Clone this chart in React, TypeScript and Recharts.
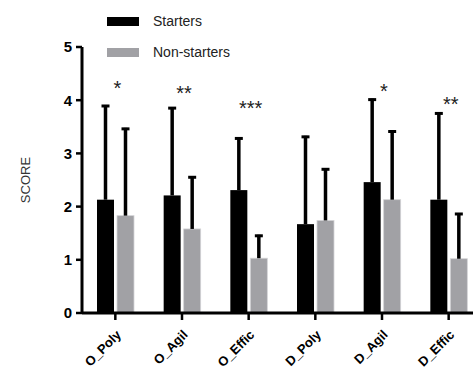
import React from 'react';
import { ComposedChart, Bar, Line, XAxis, YAxis } from 'recharts';

const FONT = '"Liberation Sans", Arial, sans-serif';

const categories = ['O_Poly', 'O_Agil', 'O_Effic', 'D_Poly', 'D_Agil', 'D_Effic'];
const startersMean = [2.13, 2.21, 2.31, 1.67, 2.46, 2.13];
const startersErr = [1.78, 1.66, 0.99, 1.66, 1.57, 1.64];
const nonStartersMean = [1.83, 1.58, 1.03, 1.74, 2.13, 1.02];
const nonStartersErr = [1.65, 0.99, 0.44, 0.98, 1.3, 0.86];
const significance = ['*', '**', '***', '', '*', '**'];
const significanceAt = [4.3, 4.21, 3.92, null, 4.25, 4.0];
const yTicks = [0, 1, 2, 3, 4, 5];

const data = categories.map((name, i) => ({
  name,
  starters: startersMean[i],
  startersErr: startersErr[i],
  nonStarters: nonStartersMean[i],
  nonStartersErr: nonStartersErr[i],
  sig: significance[i],
  sigAt: significanceAt[i],
}));

// bar + one-sided (upper) error whisker, scaled from the bar's own height
const BarWithErr = (props: any) => {
  const { x, y, width, height, fill, stroke, payload, valKey, errKey } = props;
  const val = payload[valKey];
  const err = payload[errKey];
  const perUnit = val ? height / val : 0;
  const cx = x + width / 2;
  const top = y - err * perUnit;
  return (
    <g>
      <rect x={x} y={y} width={width} height={height} fill={fill} stroke={stroke} strokeWidth={stroke ? 0.8 : 0} />
      <line x1={cx} x2={cx} y1={y} y2={top} stroke="#000" strokeWidth={3.5} />
      <line x1={cx - 4} x2={cx + 4} y1={top + 1} y2={top + 1} stroke="#000" strokeWidth={3} />
    </g>
  );
};

const SigLabel = (props: any) => {
  const { x, y, index } = props;
  const s = data[index]?.sig;
  if (!s || y == null) return null;
  return (
    <text x={x + 2} y={y + 11} textAnchor="middle" fontSize={20} fill="#222" fontFamily={FONT}>
      {s}
    </text>
  );
};

export default function App() {
  return (
    <div style={{ position: 'absolute', left: 0, top: 0, width: 473, height: 369, overflow: 'hidden', background: '#fff', fontFamily: FONT }}>
      <ComposedChart
        width={490}
        height={369}
        data={data}
        margin={{ top: 47, right: 8, bottom: 0, left: 0 }}
        barSize={17}
        barGap={3}
      >
        <XAxis
          dataKey="name"
          height={56}
          interval={0}
          angle={-45}
          textAnchor="end"
          axisLine={{ stroke: '#000', strokeWidth: 3 }}
          tickLine={{ stroke: '#000', strokeWidth: 2.5 }}
          tickSize={7}
          tickMargin={9}
          tick={{ angle: -45, textAnchor: 'end', fontSize: 13, fontWeight: 'bold', fill: '#000', fontFamily: FONT }}
        />
        <YAxis
          domain={[0, 5]}
          ticks={yTicks}
          width={82}
          axisLine={{ stroke: '#000', strokeWidth: 3 }}
          tickLine={{ stroke: '#000', strokeWidth: 2.5 }}
          tickSize={6}
          tickMargin={4}
          tick={{ fontSize: 15, fontWeight: 'bold', fill: '#000', fontFamily: FONT }}
          label={{ value: 'SCORE', angle: -90, position: 'insideLeft', offset: 25, fontSize: 13, fill: '#333', fontFamily: FONT, style: { textAnchor: 'middle' } }}
        />
        <Bar
          dataKey="starters"
          fill="#000"
          isAnimationActive={false}
          shape={(p: any) => <BarWithErr {...p} valKey="starters" errKey="startersErr" />}
        />
        <Bar
          dataKey="nonStarters"
          fill="#a1a1a5"
          isAnimationActive={false}
          shape={(p: any) => <BarWithErr {...p} stroke="#d4d4d6" valKey="nonStarters" errKey="nonStartersErr" />}
        />
        <Line
          dataKey="sigAt"
          stroke="none"
          dot={false}
          activeDot={false}
          legendType="none"
          isAnimationActive={false}
          label={<SigLabel />}
        />
      </ComposedChart>
      <div style={{ position: 'absolute', left: 107, top: 17, width: 32, height: 9, background: '#000' }} />
      <div style={{ position: 'absolute', left: 153, top: 13, fontSize: 14, lineHeight: '16px', color: '#222' }}>Starters</div>
      <div style={{ position: 'absolute', left: 107, top: 48, width: 32, height: 9, background: '#a1a1a5' }} />
      <div style={{ position: 'absolute', left: 153, top: 44, fontSize: 14, lineHeight: '16px', color: '#222' }}>Non-starters</div>
    </div>
  );
}
